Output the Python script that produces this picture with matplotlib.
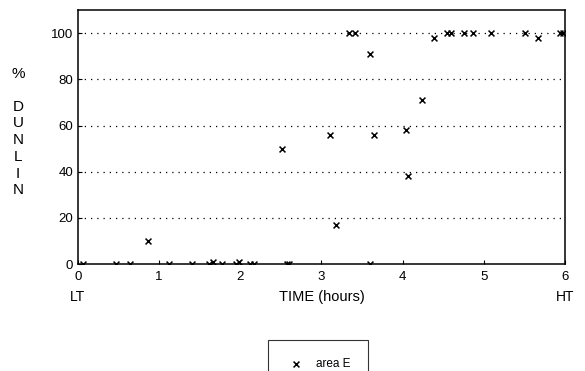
import matplotlib.pyplot as plt
import numpy as np

plt.rcParams['font.family'] = ['Liberation Sans', 'DejaVu Sans']

# time after low tide (hours) and % dunlin, area E
hours = [0.07, 0.47, 0.64, 0.86, 1.12, 1.40, 1.62, 1.66, 1.78, 1.95, 1.98,
         2.12, 2.17, 2.57, 2.60, 2.52, 3.10, 3.18, 3.34, 3.41, 3.60, 3.60,
         3.65, 4.04, 4.06, 4.24, 4.38, 4.55, 4.60, 4.75, 4.86, 5.09, 5.50,
         5.67, 5.94, 5.98]
dunlin = [0, 0, 0, 10, 0, 0, 0, 1, 0, 0, 1,
          0, 0, 0, 0, 50, 56, 17, 100, 100, 91, 0,
          56, 58, 38, 71, 98, 100, 100, 100, 100, 100, 100,
          98, 100, 100]

yticks = [0, 20, 40, 60, 80, 100]

fig = plt.figure(figsize=(5.85, 3.71), dpi=100)
ax = fig.add_axes([0.133, 0.288, 0.833, 0.685])

ax.scatter(hours, dunlin, marker='x', s=18, color='black', linewidths=1.1,
           label='area E', zorder=3)

for y in yticks[1:]:
    ax.axhline(y, color='black', lw=0.9, ls=(0, (1, 4)), zorder=1)

ax.set_xlim(0, 6)
ax.set_ylim(0, 110)
ax.set_xticks(range(7))
ax.set_yticks(yticks)
ax.tick_params(direction='in', length=3, width=0.8, labelsize=9.5)
ax.tick_params(axis='x', pad=5)
for s in ax.spines.values():
    s.set_linewidth(1.1)

ax.text(0, -0.10, 'LT', transform=ax.get_xaxis_transform(), ha='center',
        va='top', fontsize=10)
ax.text(6, -0.10, 'HT', transform=ax.get_xaxis_transform(), ha='center',
        va='top', fontsize=10)
ax.text(3, -0.10, 'TIME (hours)', transform=ax.get_xaxis_transform(),
        ha='center', va='top', fontsize=10.5)

fig.text(0.031, 0.80, '%', ha='center', va='center', fontsize=11)
fig.text(0.031, 0.60, 'D\nU\nN\nL\nI\nN', ha='center', va='center',
         fontsize=11, linespacing=1.25)

leg = ax.legend(loc='upper center', bbox_to_anchor=(0.493, -0.30),
                frameon=True, fancybox=False, edgecolor='black',
                fontsize=8.5, handletextpad=0.8, handlelength=1.8,
                borderpad=1.5, borderaxespad=0)
leg.get_frame().set_linewidth(0.8)

fig.savefig('out.png', dpi=100)
